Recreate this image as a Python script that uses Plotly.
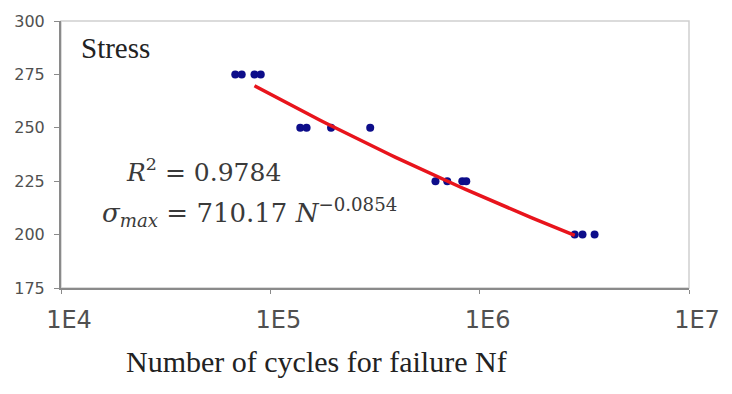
import numpy as np
import plotly.graph_objects as go

# Data
cycles = [68000, 73000, 84000, 90000,
          139000, 149000, 195000, 300000,
          615000, 700000, 826000, 863000,
          2845000, 3100000, 3540000]
stress = [275, 275, 275, 275,
          250, 250, 250, 250,
          225, 225, 225, 225,
          200, 200, 200]

# Power-law trendline shown on the chart: sigma = A * N^B
FIT_A = 710.17
FIT_B = -0.0854
fit_start, fit_end = 84000, 2845000

x_tickvals = [1e4, 1e5, 1e6, 1e7]
x_ticktext = ["1E4", "1E5", "1E6", "1E7"]
y_tickvals = [175, 200, 225, 250, 275, 300]

fit_n = np.logspace(np.log10(fit_start), np.log10(fit_end), 60)
fit_s = FIT_A * fit_n ** FIT_B

W, H = 732, 394
L, R, T, B = 61, 39, 19, 106

fig = go.Figure()
fig.add_trace(go.Scatter(
    x=cycles, y=stress, mode="markers",
    marker=dict(size=8, color="#0d0d8a"),
    showlegend=False, hoverinfo="x+y"))
fig.add_trace(go.Scatter(
    x=fit_n, y=fit_s, mode="lines",
    line=dict(color="#e8141c", width=3.5),
    showlegend=False, hoverinfo="skip"))

axis_gray = "#8a8a8a"
fig.update_xaxes(
    type="log", range=[4, 7],
    tickvals=x_tickvals, ticktext=x_ticktext,
    tickfont=dict(family="DejaVu Sans", size=24, color="#505050"),
    showgrid=False, zeroline=False,
    showline=True, linecolor=axis_gray, linewidth=2,
    ticks="outside", ticklen=4, tickcolor=axis_gray,
    ticklabelstandoff=5, ticklabelshift=8)
fig.update_yaxes(
    range=[175, 300], tickvals=y_tickvals,
    tickfont=dict(family="DejaVu Sans", size=16, color="#505050"),
    showgrid=False, zeroline=False,
    showline=True, linecolor=axis_gray, linewidth=2,
    ticks="outside", ticklen=5, tickcolor=axis_gray,
    ticklabelstandoff=6)

pw = W - L - R
ph = H - T - B

def px(xp):
    return (xp - L) / pw

def py(yp):
    return (H - B - yp) / ph

fig.add_shape(type="rect", xref="paper", yref="paper", x0=0, x1=1, y0=0, y1=1,
              line=dict(color="#cfcfcf", width=1.5), layer="below")

fig.add_annotation(text="Stress", xref="paper", yref="paper",
                   x=px(79), y=py(46), xanchor="left", yanchor="middle",
                   showarrow=False,
                   font=dict(family="Liberation Serif", size=29, color="#222222"))
fig.add_annotation(text="<i>R</i><sup>2</sup> = 0.9784", xref="paper", yref="paper",
                   x=px(124), y=py(170), xanchor="left", yanchor="middle",
                   showarrow=False,
                   font=dict(family="DejaVu Serif", size=25, color="#3a3a3a"))
fig.add_annotation(text="<i>σ</i><sub><i>max</i></sub> = 710.17 <i>N</i><sup>−0.0854</sup>",
                   xref="paper", yref="paper",
                   x=px(100), y=py(212), xanchor="left", yanchor="middle",
                   showarrow=False,
                   font=dict(family="DejaVu Serif", size=26, color="#3a3a3a"))
fig.add_annotation(text="Number of cycles for failure Nf", xref="paper", yref="paper",
                   x=px(124), y=py(362), xanchor="left", yanchor="middle",
                   showarrow=False,
                   font=dict(family="Liberation Serif", size=30, color="#222222"))

fig.update_layout(
    width=W, height=H,
    margin=dict(l=L, r=R, t=T, b=B, pad=0),
    paper_bgcolor="white", plot_bgcolor="white")

fig.write_html("out.html")
